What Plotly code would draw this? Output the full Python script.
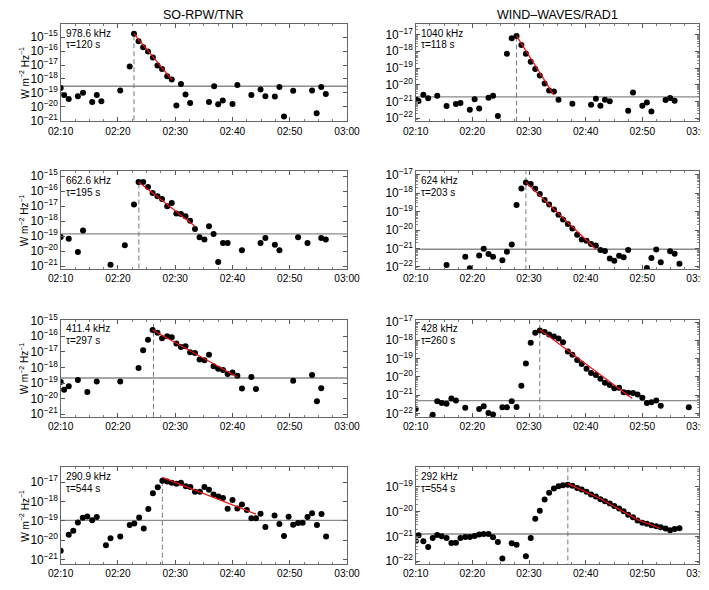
import plotly.graph_objects as go

# ---------------- data (time in minutes after 02:00, intensity as log10 W m^-2 Hz^-1) ----------------
tick_vals = [10, 20, 30, 40, 50, 60]
tick_text = ["02:10", "02:20", "02:30", "02:40", "02:50", "03:00"]
column_titles = ["SO-RPW/TNR", "WIND\u2013WAVES/RAD1"]

freq_labels = ["978.6 kHz", "1040 kHz", "662.6 kHz", "624 kHz",
               "411.4 kHz", "428 kHz", "290.9 kHz", "292 kHz"]
tau_labels = ["\u03c4=120 s", "\u03c4=118 s", "\u03c4=195 s", "\u03c4=203 s",
              "\u03c4=297 s", "\u03c4=260 s", "\u03c4=544 s", "\u03c4=554 s"]

# SO-RPW/TNR 978.6 kHz
t1 = [10.0, 10.6, 11.4, 13.0, 13.9, 15.5, 16.3, 17.1, 20.4, 22.05, 22.8, 23.6, 24.4, 25.25, 26.1,
      26.9, 27.7, 28.6, 29.4, 30.2, 31.0, 31.8, 32.6, 35.9, 36.8, 37.5, 38.3, 40.0, 40.85, 43.3,
      44.9, 45.75, 47.4, 48.2, 49.0, 50.6, 53.9, 54.7, 55.5, 56.3]
v1 = [-18.65, -19.15, -19.44, -19.25, -19.0, -19.66, -19.15, -19.61, -18.84, -17.11, -14.76, -15.29,
      -15.72, -16.03, -16.46, -17.04, -17.28, -17.81, -18.05, -19.92, -18.36, -19.13, -19.73, -19.66,
      -18.53, -19.82, -19.56, -19.8, -18.43, -19.15, -18.77, -19.25, -19.27, -18.58, -20.71, -18.86,
      -18.84, -20.47, -18.58, -19.08]

# WIND RAD1 1040 kHz
t2 = [10.0, 10.5, 11.35, 12.2, 13.8, 15.45, 17.1, 17.9, 19.55, 20.4, 21.2, 22.85, 23.65, 24.5, 26.1,
      26.95, 27.8, 28.65, 29.45, 30.3, 31.1, 31.9, 32.75, 33.55, 34.4, 35.2, 37.65, 40.95, 41.8, 42.6,
      43.4, 44.25, 47.5, 48.35, 50.0, 50.8, 51.6, 54.1, 54.9, 55.7]
v2 = [-20.85, -20.97, -20.6, -20.81, -20.66, -21.27, -21.15, -21.09, -21.49, -20.87, -21.41, -20.77,
      -20.66, -21.86, -18.15, -17.22, -17.08, -17.63, -18.15, -18.62, -19.06, -19.45, -19.92, -20.34,
      -20.4, -20.89, -21.13, -21.19, -20.83, -21.25, -20.89, -20.99, -21.55, -20.46, -21.25, -21.05,
      -21.6, -20.91, -20.79, -20.95]

# SO-RPW/TNR 662.6 kHz
t3 = [10.0, 11.4, 13.0, 13.9, 18.7, 21.2, 22.8, 23.6, 24.4, 25.25, 26.05, 26.9, 27.7, 28.6, 29.4,
      30.2, 31.0, 31.8, 32.6, 33.45, 34.25, 35.1, 35.9, 36.7, 37.5, 38.35, 39.15, 41.65, 44.9, 45.75,
      47.4, 48.2, 51.45, 53.1, 55.5, 56.3]
v3 = [-19.04, -19.16, -20.04, -18.62, -20.89, -19.6, -16.89, -15.38, -15.38, -15.71, -16.11, -16.33,
      -16.51, -17.0, -16.78, -17.49, -17.51, -17.67, -17.96, -18.51, -19.07, -19.22, -18.33, -18.84,
      -20.71, -19.44, -19.44, -19.93, -19.44, -19.11, -19.56, -19.93, -19.07, -19.44, -19.11, -19.22]

# WIND RAD1 624 kHz
t4 = [15.45, 18.75, 19.55, 21.2, 22.0, 22.85, 23.65, 25.3, 26.1, 26.95, 27.8, 28.65, 29.45, 30.3,
      31.1, 31.9, 32.75, 33.55, 34.4, 35.2, 36.0, 36.85, 37.65, 38.5, 39.3, 40.15, 40.95, 41.8, 42.6,
      43.4, 44.25, 45.05, 45.9, 46.7, 47.5, 50.8, 51.6, 52.45, 53.25, 54.9, 55.7, 56.55]
v4 = [-21.89, -21.45, -22.07, -21.38, -21.01, -21.3, -21.45, -21.63, -21.17, -20.79, -18.65, -17.75,
      -17.42, -17.51, -17.77, -18.05, -18.38, -18.62, -18.89, -19.17, -19.43, -19.67, -19.92, -20.25,
      -20.51, -20.58, -20.75, -20.84, -21.08, -21.14, -21.54, -21.67, -21.39, -21.47, -21.08, -22.06,
      -21.52, -21.06, -21.74, -21.15, -21.28, -21.83]

# SO-RPW/TNR 411.4 kHz
t5 = [10.0, 10.6, 11.4, 13.0, 14.65, 16.3, 20.4, 23.6, 24.4, 25.25, 26.05, 26.9, 27.7, 28.6, 29.4,
      30.2, 31.0, 31.8, 32.6, 33.45, 34.25, 35.1, 35.9, 36.7, 37.5, 38.35, 39.15, 40.0, 40.85, 41.65,
      43.3, 44.1, 50.6, 53.9, 54.75, 55.5]
v5 = [-18.93, -19.44, -19.21, -18.8, -19.57, -18.91, -18.91, -18.03, -16.9, -16.22, -15.6, -15.77,
      -16.13, -16.0, -16.07, -16.47, -16.69, -16.65, -17.03, -17.07, -17.5, -17.54, -17.18, -17.93,
      -18.08, -18.16, -18.42, -18.33, -18.53, -19.36, -18.61, -19.38, -18.85, -18.48, -20.17, -19.34]

# WIND RAD1 428 kHz
t6 = [10.0, 13.0, 13.8, 14.6, 15.45, 16.3, 17.1, 18.75, 21.2, 22.0, 22.85, 23.65, 25.3, 26.1, 26.95,
      27.8, 28.65, 29.45, 30.3, 31.1, 31.9, 32.75, 33.55, 34.4, 35.2, 36.0, 36.85, 37.65, 38.5, 39.3,
      40.15, 40.95, 41.8, 42.6, 43.4, 44.25, 45.05, 45.9, 46.7, 47.5, 48.35, 49.15, 50.0, 50.8, 51.6,
      52.45, 53.25, 58.2]
v6 = [-21.76, -22.07, -21.34, -21.43, -21.48, -21.19, -21.3, -21.7, -21.76, -21.61, -21.98, -22.06,
      -21.67, -21.67, -21.34, -21.65, -20.49, -19.27, -18.13, -17.59, -17.46, -17.54, -17.68, -17.79,
      -17.9, -18.11, -18.61, -18.79, -19.08, -19.29, -19.56, -19.79, -19.9, -20.1, -20.32, -20.45,
      -20.63, -20.6, -20.84, -20.87, -20.89, -20.97, -21.15, -21.43, -21.39, -21.3, -21.58, -21.67]

# SO-RPW/TNR 290.9 kHz
t7 = [10.0, 11.4, 12.2, 13.0, 13.85, 14.65, 15.5, 16.3, 17.9, 18.7, 20.4, 22.05, 22.85, 23.7, 24.5,
      25.3, 26.1, 26.95, 27.75, 28.6, 29.4, 30.2, 31.0, 31.85, 32.65, 33.45, 34.3, 35.1, 35.9, 36.7,
      37.55, 38.35, 39.15, 40.0, 40.85, 41.65, 42.5, 43.3, 44.1, 44.9, 45.75, 47.35, 48.2, 49.0, 49.8,
      50.6, 51.45, 52.25, 53.1, 53.9, 54.75, 55.55, 56.35]
v7 = [-20.54, -19.71, -19.51, -19.08, -18.84, -18.77, -18.97, -18.8, -20.26, -19.9, -19.8, -19.21,
      -19.13, -18.82, -19.39, -18.39, -17.58, -17.27, -16.93, -16.97, -17.03, -17.09, -17.03, -17.21,
      -17.26, -17.5, -17.5, -17.26, -17.39, -17.64, -17.74, -17.82, -18.37, -17.93, -18.36, -18.15,
      -18.44, -18.87, -18.87, -18.63, -19.32, -18.72, -19.16, -19.78, -18.79, -19.2, -19.11, -19.09,
      -18.8, -18.61, -19.21, -18.65, -19.8]

# WIND RAD1 292 kHz
t8 = [10.0, 10.5, 11.35, 12.2, 13.0, 13.8, 14.6, 15.45, 16.3, 17.1, 17.9, 18.75, 19.55, 20.4, 21.2,
      22.0, 22.85, 23.65, 24.5, 25.3, 26.95, 27.8, 29.45, 30.3, 31.1, 31.9, 32.75, 33.55, 34.4, 35.2,
      36.0, 36.85, 37.65, 38.5, 39.3, 40.15, 40.95, 41.8, 42.6, 43.4, 44.25, 45.05, 45.9, 46.7, 47.5,
      48.35, 49.15, 50.0, 50.8, 51.6, 52.45, 53.25, 54.1, 54.9, 55.7, 56.55]
v8 = [-21.19, -20.95, -21.19, -21.42, -21.06, -20.94, -20.99, -21.06, -21.26, -21.25, -21.06, -21.02,
      -21.02, -20.98, -20.92, -20.9, -20.9, -21.03, -21.22, -21.89, -21.27, -21.33, -21.8, -21.06,
      -20.28, -19.96, -19.51, -19.24, -19.07, -18.97, -18.93, -18.91, -18.95, -19.04, -19.11, -19.2,
      -19.31, -19.39, -19.5, -19.58, -19.67, -19.77, -19.87, -19.98, -20.12, -20.22, -20.36, -20.45,
      -20.49, -20.55, -20.59, -20.63, -20.68, -20.75, -20.7, -20.67]

# exponential-decay fits (time, log10 intensity)
fit_t = [[22.8, 29.4], [27.8, 34.4], [23.6, 33.45], [29.45, 41.8],
         [26.05, 40.85], [31.9, 48.2], [27.75, 44.1], [36.85, 42.6, 49.15, 53.2]]
fit_v = [[-14.76, -18.05], [-17.08, -20.62], [-15.38, -18.33], [-17.42, -21.04],
         [-15.6, -18.61], [-17.41, -21.19], [-16.76, -18.65], [-18.87, -19.48, -20.32, -20.68]]

# background level (log10) and onset time
background = [-18.53, -20.72, -18.84, -21.04, -18.68, -21.3, -18.97, -20.9]
onset_t = [22.8, 27.8, 23.65, 29.45, 26.2, 31.9, 27.75, 36.85]
onset_top = [-14.88, -17.15, -15.4, -16.0, -15.05, -16.0, -16.76, -18.0]

# y ranges (log10)
y_ranges = [[-21.05, -14.05], [-22.18, -16.37], [-21.18, -14.67], [-22.11, -16.82],
            [-21.18, -14.94], [-22.2, -16.87], [-21.22, -16.24], [-22.11, -18.21]]

times = [t1, t2, t3, t4, t5, t6, t7, t8]
logs = [v1, v2, v3, v4, v5, v6, v7, v8]

# ---------------- layout geometry ----------------
W, H = 709, 590
col_px = [(52.7, 339.0), (407.7, 691.0)]
row_px = [(16.0, 113.3), (163.3, 261.0), (311.7, 409.0), (459.3, 556.0)]
FONT = "Liberation Sans, Arial, Helvetica, sans-serif"

fig = go.Figure()
layout = dict(template="none", width=W, height=H, margin=dict(l=0, r=0, t=0, b=0, pad=0),
              autosize=False, paper_bgcolor="white", plot_bgcolor="white", showlegend=False,
              dragmode=False, font=dict(family=FONT, color="black", size=10))
annotations = []

for i in range(8):
    r, c = divmod(i, 2)
    k = i + 1
    xa = "x" if k == 1 else f"x{k}"
    ya = "y" if k == 1 else f"y{k}"
    xkey = "xaxis" if k == 1 else f"xaxis{k}"
    ykey = "yaxis" if k == 1 else f"yaxis{k}"
    x0, x1 = col_px[c]
    top, bot = row_px[r]
    lo, hi = y_ranges[i]

    # background line
    fig.add_trace(go.Scatter(x=[tick_vals[0], tick_vals[-1]], y=[10 ** background[i]] * 2,
                             mode="lines", line=dict(color="#8a8a8a", width=1.3),
                             xaxis=xa, yaxis=ya, hoverinfo="skip"))
    # onset dashed line
    fig.add_trace(go.Scatter(x=[onset_t[i]] * 2, y=[10 ** (lo - 0.5), 10 ** onset_top[i]],
                             mode="lines", line=dict(color="#777777", width=1, dash="5px,3px"),
                             xaxis=xa, yaxis=ya, hoverinfo="skip"))
    # data points
    fig.add_trace(go.Scatter(x=times[i], y=[10 ** v for v in logs[i]], mode="markers",
                             marker=dict(color="black", size=6, line=dict(width=0)),
                             xaxis=xa, yaxis=ya))
    # fit
    fig.add_trace(go.Scatter(x=fit_t[i], y=[10 ** v for v in fit_v[i]], mode="lines",
                             line=dict(color="#ee1111", width=1.2),
                             xaxis=xa, yaxis=ya, hoverinfo="skip"))

    layout[xkey] = dict(domain=[x0 / W, x1 / W], range=[tick_vals[0], tick_vals[-1]],
                        anchor=ya, automargin=False, tickmode="array", tickvals=tick_vals,
                        ticktext=tick_text, ticklabeloverflow="allow", fixedrange=True,
                        ticks="inside", ticklen=4, tickcolor="#555", showline=True,
                        linecolor="#666", linewidth=1, mirror="ticks", showgrid=False,
                        zeroline=False, tickfont=dict(size=10.2, family=FONT),
                        minor=dict(ticks="inside", ticklen=2, dtick=2.5, tickcolor="#777",
                                   showgrid=False))
    ydict = dict(domain=[1 - bot / H, 1 - top / H], type="log", range=[lo, hi], anchor=xa,
                 automargin=False, dtick=1, exponentformat="power", showexponent="all",
                 ticklabeloverflow="allow", fixedrange=True,
                 ticks="inside", ticklen=4, tickcolor="#555", showline=True,
                 linecolor="#666", linewidth=1, mirror="ticks", showgrid=False,
                 zeroline=False, tickfont=dict(size=9.5, family=FONT))
    if c == 1:
        ydict["minor"] = dict(ticks="inside", ticklen=2, dtick="D1", tickcolor="#888",
                              showgrid=False)
    layout[ykey] = ydict

    # inside labels
    annotations.append(dict(text=freq_labels[i], xref=f"{xa} domain", yref=f"{ya} domain",
                            x=0.012, y=0.905, xanchor="left", yanchor="middle",
                            showarrow=False, font=dict(size=10, family=FONT)))
    annotations.append(dict(text=tau_labels[i], xref=f"{xa} domain", yref=f"{ya} domain",
                            x=0.012, y=0.785, xanchor="left", yanchor="middle",
                            showarrow=False, font=dict(size=10, family=FONT)))
    if c == 0:
        annotations.append(dict(text="W m<sup>\u22122</sup> Hz<sup>\u22121</sup>",
                                xref="paper", yref="paper", x=16 / W,
                                y=1 - (top + bot) / 2 / H, xanchor="center", yanchor="middle",
                                textangle=-90, showarrow=False, font=dict(size=10, family=FONT)))

for c in range(2):
    x0, x1 = col_px[c]
    annotations.append(dict(text=column_titles[c], xref="paper", yref="paper",
                            x=(x0 + x1) / 2 / W, y=1 - 7.5 / H, xanchor="center",
                            yanchor="middle", showarrow=False, font=dict(size=12.5, family=FONT)))

layout["annotations"] = annotations
fig.update_layout(**layout)
fig.write_html("out.html", config={"staticPlot": True, "displayModeBar": False})
